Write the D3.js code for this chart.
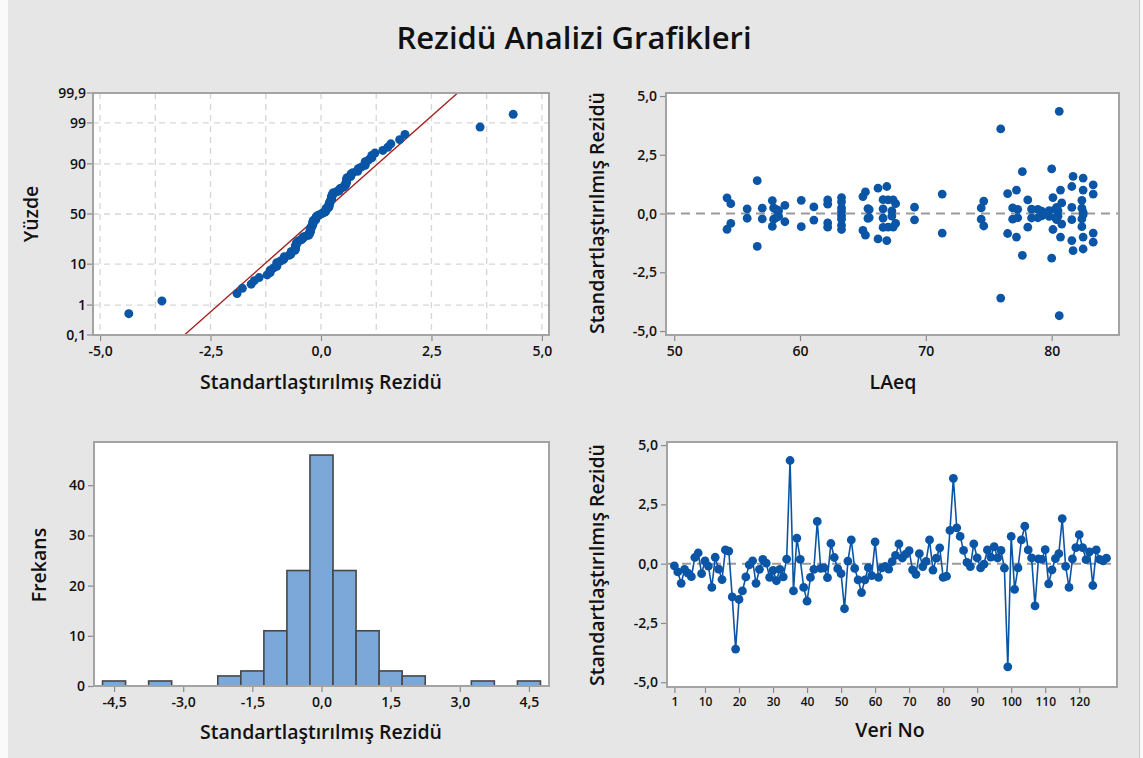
<!DOCTYPE html>
<html><head><meta charset="utf-8">
<script src="https://cdn.jsdelivr.net/npm/d3@7"></script>
<style>
body{margin:0;background:#fff}
svg{display:block}
text{font-family:"Open Sans","Noto Sans",sans-serif;fill:#111}
</style>
</head><body>
<svg id="c" width="1143" height="758"></svg>
<script>
// ---------- data ----------
const obsNo = d3.range(1, 129);
const residuals = [
 -0.09,-0.35,-0.83,-0.24,-0.40,-0.55, 0.26, 0.45,-0.42, 0.12,
 -0.10,-1.00, 0.27,-0.23,-0.67, 0.58, 0.53,-1.40,-3.60,-1.51,
 -1.15,-0.56,-0.05, 0.12,-0.83,-0.24, 0.18, 0.02,-0.58,-0.28,
 -0.72,-0.24,-0.56, 0.19, 4.35,-1.15, 1.08, 0.18,-1.00,-1.58,
 -0.58,-0.24, 1.78,-0.20,-0.18,-0.59, 0.85, 0.26,-0.21,-0.42,
 -1.90, 0.11, 1.00,-0.20,-0.68,-1.22,-0.68,-0.17,-0.50, 0.92,
 -0.58,-0.18,-0.12,-0.23, 0.09, 0.35, 0.83, 0.24, 0.40, 0.55,
 -0.26,-0.45, 0.42,-0.12, 0.10, 1.00,-0.27, 0.23, 0.67,-0.58,
 -0.53, 1.40, 3.60, 1.51, 1.15, 0.56, 0.05,-0.12, 0.83, 0.24,
 -0.18,-0.02, 0.58, 0.28, 0.72, 0.24, 0.56,-0.19,-4.35, 1.15,
 -1.08,-0.18, 1.00, 1.58, 0.58, 0.24,-1.78, 0.20, 0.18, 0.59,
 -0.85,-0.26, 0.21, 0.42, 1.90,-0.11,-1.00, 0.20, 0.68, 1.22,
  0.68, 0.17, 0.50,-0.92, 0.58, 0.18, 0.12, 0.23
];
const laeq = [
 63.3,58.8,71.3,74.4,62.2,57.8,81.6,80.8,54.5,79.8,
 79.2,80.7,69.1,82.4,54.2,67.0,74.6,56.6,75.95,82.5,
 66.9,82.4,82.5,80.5,83.3,76.9,80.3,79.5,67.4,61.1,
 65.0,57.9,60.1,78.4,80.6,81.6,66.2,77.3,82.5,81.7,
 78.1,63.3,77.67,55.8,78.9,66.6,76.5,80.4,65.4,67.6,
 80.0,67.3,77.2,66.6,80.1,83.3,63.3,65.5,63.3,65.2,
 62.2,58.1,58.3,57.0,
 63.3,58.8,71.3,74.4,62.2,57.8,81.6,80.8,54.5,79.8,
 79.2,80.7,69.1,82.4,54.2,67.0,74.6,56.6,75.95,82.5,
 66.9,82.4,82.5,80.5,83.3,76.9,80.3,79.5,67.4,61.1,
 65.0,57.9,60.1,78.4,80.6,81.6,66.2,77.3,82.5,81.7,
 78.1,63.3,77.67,55.8,78.9,66.6,76.5,80.4,65.4,67.6,
 80.0,67.3,77.2,66.6,80.1,83.3,63.3,65.5,63.3,65.2,
 62.2,58.1,58.3,57.0
];
const histCenters = [-4.5,-3.5,-2.0,-1.5,-1.0,-0.5,0.0,0.5,1.0,1.5,2.0,3.5,4.5];
const histCounts  = [1,1,2,3,11,23,46,23,11,3,2,1,1];
const binWidth = 0.5;

const probTicks = [0.1,1,10,50,90,99,99.9];
const probXTicks = [-5,-2.5,0,2.5,5];
const probGridX = [-5,-3.75,-2.5,-1.25,0,1.25,2.5,3.75,5];
const resTicks = [-5,-2.5,0,2.5,5];
const laeqTicks = [50,60,70,80];
const histXTicks = [-4.5,-3,-1.5,0,1.5,3,4.5];
const histYTicks = [0,10,20,30,40];
const obsTicks = [1,10,20,30,40,50,60,70,80,90,100,110,120];

// ---------- helpers ----------
const FONT = '"Open Sans","Noto Sans",sans-serif';
const loc = d3.formatLocale({decimal:",",thousands:".",grouping:[3],currency:["",""],minus:"-"});
const f1 = loc.format(".1f");
const fP = p => (p === 0.1 || p === 99.9) ? f1(p) : String(p);

function probit(p){
 const a=[-3.969683028665376e+01,2.209460984245205e+02,-2.759285104469687e+02,1.383577518672690e+02,-3.066479806614716e+01,2.506628277459239e+00];
 const b=[-5.447609879822406e+01,1.615858368580409e+02,-1.556989798598866e+02,6.680131188771972e+01,-1.328068155288572e+01];
 const c=[-7.784894002430293e-03,-3.223964580411365e-01,-2.400758277161838e+00,-2.549732539343734e+00,4.374664141464968e+00,2.938163982698783e+00];
 const d=[7.784695709041462e-03,3.224671290700398e-01,2.445134137142996e+00,3.754408661907416e+00];
 const pl=0.02425, ph=1-pl; let q,r;
 if(p<pl){q=Math.sqrt(-2*Math.log(p));return (((((c[0]*q+c[1])*q+c[2])*q+c[3])*q+c[4])*q+c[5])/((((d[0]*q+d[1])*q+d[2])*q+d[3])*q+1);}
 if(p<=ph){q=p-0.5;r=q*q;return (((((a[0]*r+a[1])*r+a[2])*r+a[3])*r+a[4])*r+a[5])*q/(((((b[0]*r+b[1])*r+b[2])*r+b[3])*r+b[4])*r+1);}
 q=Math.sqrt(-2*Math.log(1-p));return -(((((c[0]*q+c[1])*q+c[2])*q+c[3])*q+c[4])*q+c[5])/((((d[0]*q+d[1])*q+d[2])*q+d[3])*q+1);
}

const BLUE = "#0a55a5";
const FRAME = "#a3a3a3";
const TICKFS = 14, TICKW = 600;
const svg = d3.select("#c");

svg.append("rect").attr("x",0).attr("y",0).attr("width",1143).attr("height",758).attr("fill","#fafafa");
svg.append("rect").attr("x",8).attr("y",0).attr("width",1131).attr("height",758).attr("fill","#e6e6e6");
svg.append("line").attr("x1",1139.5).attr("x2",1139.5).attr("y1",0).attr("y2",758).attr("stroke","#c8c8c8");

svg.append("text").attr("x",574).attr("y",49).attr("text-anchor","middle")
  .attr("font-size",31).attr("font-weight",600).text("Rezidü Analizi Grafikleri");

function frame(x0,x1,y0,y1){
  return svg.append("rect").attr("x",x0).attr("y",y0).attr("width",x1-x0).attr("height",y1-y0)
    .attr("fill","#fff");
}
function border(x0,x1,y0,y1){
  svg.append("rect").attr("x",x0).attr("y",y0).attr("width",x1-x0).attr("height",y1-y0)
    .attr("fill","none").attr("stroke",FRAME).attr("stroke-width",2);
}
function styleTicks(g, fs){
  g.select(".domain").remove();
  g.selectAll(".tick line").attr("stroke","#8a8a8a").attr("stroke-width",1.2);
  g.selectAll(".tick text").attr("font-size",fs).attr("font-weight",TICKW)
    .attr("font-family",FONT).attr("fill","#111");
}
function xAxis(scale, ticks, y, fmt, fs){
  const g = svg.append("g").attr("transform",`translate(0,${y})`);
  g.call(d3.axisBottom(scale).tickValues(ticks).tickFormat(fmt).tickSize(5).tickSizeOuter(0));
  styleTicks(g, fs);
  g.selectAll(".tick text").attr("dy","0.85em");
}
function yAxis(scale, ticks, x, fmt, fs){
  const g = svg.append("g").attr("transform",`translate(${x},0)`);
  g.call(d3.axisLeft(scale).tickValues(ticks).tickFormat(fmt).tickSize(5).tickSizeOuter(0));
  styleTicks(g, fs);
}
function xTitle(x,y,t){ svg.append("text").attr("x",x).attr("y",y).attr("text-anchor","middle").attr("font-size",19.5).attr("font-weight",600).text(t); }
function yTitle(x,y,t){ svg.append("text").attr("transform",`translate(${x},${y}) rotate(-90)`).attr("text-anchor","middle").attr("font-size",19.5).attr("font-weight",600).text(t); }

// ---------- Panel 1: normal probability plot ----------
{
  const X0=93,X1=549,Y0=93,Y1=335;
  frame(X0,X1,Y0,Y1);
  const x = d3.scaleLinear().domain([-5.16,5.16]).range([X0,X1]);
  const y = d3.scaleLinear().domain([probit(0.001),probit(0.999)]).range([Y1,Y0]);
  const dash = "6,5";
  svg.append("g").selectAll("line").data(probGridX).join("line")
    .attr("x1",d=>x(d)).attr("x2",d=>x(d)).attr("y1",Y0).attr("y2",Y1)
    .attr("stroke","#d6d6d6").attr("stroke-width",1.3).attr("stroke-dasharray",dash);
  svg.append("g").selectAll("line").data(probTicks.slice(1,-1)).join("line")
    .attr("x1",X0).attr("x2",X1).attr("y1",d=>y(probit(d/100))).attr("y2",d=>y(probit(d/100)))
    .attr("stroke","#d6d6d6").attr("stroke-width",1.3).attr("stroke-dasharray",dash);

  const n = residuals.length;
  const sorted = residuals.slice().sort(d3.ascending);
  const pts = sorted.map((v,i)=>({v, z: probit((i+1-0.3)/(n+0.4))}));
  const mu = d3.mean(residuals), sd = d3.deviation(residuals);
  const zl = [probit(0.001), probit(0.999)];
  svg.append("path").datum(zl)
    .attr("d", d3.line().x(z=>x(mu+sd*z)).y(z=>y(z)))
    .attr("stroke","#a3201c").attr("stroke-width",1.4).attr("fill","none");
  svg.append("g").selectAll("circle").data(pts).join("circle")
    .attr("cx",d=>x(d.v)).attr("cy",d=>y(d.z)).attr("r",4.5).attr("fill",BLUE);
  border(X0,X1,Y0,Y1);
  xAxis(x, probXTicks, Y1+1, f1, TICKFS);
  const gy = svg.append("g");
  probTicks.forEach(p=>{
    const yy = y(probit(p/100));
    gy.append("line").attr("x1",X0-6).attr("x2",X0-1).attr("y1",yy).attr("y2",yy).attr("stroke","#8a8a8a").attr("stroke-width",1.2);
    gy.append("text").attr("x",X0-7).attr("y",yy).attr("dy","0.35em").attr("text-anchor","end")
      .attr("font-size",TICKFS).attr("font-weight",TICKW).text(fP(p));
  });
  xTitle(321,389,"Standartlaştırılmış Rezidü");
  yTitle(38,214,"Yüzde");
}

// ---------- Panel 2: residuals vs LAeq ----------
{
  const X0=666,X1=1119,Y0=93,Y1=335;
  frame(X0,X1,Y0,Y1);
  const x = d3.scaleLinear().domain([49.35,85.35]).range([X0,X1]);
  const y = d3.scaleLinear().domain([-5.17,5.13]).range([Y1,Y0]);
  svg.append("line").attr("x1",X0).attr("x2",X1).attr("y1",y(0)).attr("y2",y(0))
    .attr("stroke","#9a9a9a").attr("stroke-width",2).attr("stroke-dasharray","9,6");
  svg.append("g").selectAll("circle").data(residuals).join("circle")
    .attr("cx",(d,i)=>x(laeq[i])).attr("cy",d=>y(d)).attr("r",4.4).attr("fill",BLUE);
  border(X0,X1,Y0,Y1);
  xAxis(x, laeqTicks, Y1+1, d=>String(d), TICKFS);
  yAxis(y, resTicks, X0-1, f1, TICKFS);
  xTitle(893,389,"LAeq");
  yTitle(604,213,"Standartlaştırılmış Rezidü");
}

// ---------- Panel 3: histogram ----------
{
  const X0=94,X1=549,Y0=442,Y1=686;
  frame(X0,X1,Y0,Y1);
  const x = d3.scaleLinear().domain([-4.935,4.935]).range([X0,X1]);
  const y = d3.scaleLinear().domain([0,48.6]).range([Y1,Y0]);
  svg.append("g").selectAll("rect").data(histCenters).join("rect")
    .attr("x",d=>x(d-binWidth/2)).attr("width",d=>x(d+binWidth/2)-x(d-binWidth/2))
    .attr("y",(d,i)=>y(histCounts[i])).attr("height",(d,i)=>y(0)-y(histCounts[i]))
    .attr("fill","#7ba7d9").attr("stroke","#474747").attr("stroke-width",1.6);
  border(X0,X1,Y0,Y1);
  xAxis(x, histXTicks, Y1+1, f1, TICKFS);
  yAxis(y, histYTicks, X0-1, d=>String(d), TICKFS);
  xTitle(321,739,"Standartlaştırılmış Rezidü");
  yTitle(46,565,"Frekans");
}

// ---------- Panel 4: residuals vs observation order ----------
{
  const X0=667,X1=1117,Y0=442,Y1=687;
  frame(X0,X1,Y0,Y1);
  const x = d3.scaleLinear().domain([-1.17,131.1]).range([X0,X1]);
  const y = d3.scaleLinear().domain([-5.2,5.13]).range([Y1,Y0]);
  svg.append("line").attr("x1",X0).attr("x2",X1).attr("y1",y(0)).attr("y2",y(0))
    .attr("stroke","#9a9a9a").attr("stroke-width",2).attr("stroke-dasharray","9,6");
  svg.append("path").datum(residuals)
    .attr("d", d3.line().x((d,i)=>x(obsNo[i])).y(d=>y(d)))
    .attr("stroke",BLUE).attr("stroke-width",1.6).attr("fill","none");
  svg.append("g").selectAll("circle").data(residuals).join("circle")
    .attr("cx",(d,i)=>x(obsNo[i])).attr("cy",d=>y(d)).attr("r",4.4).attr("fill",BLUE);
  border(X0,X1,Y0,Y1);
  xAxis(x, obsTicks, Y1+1, d=>String(d), 12);
  yAxis(y, resTicks, X0-1, f1, TICKFS);
  xTitle(890,737,"Veri No");
  yTitle(604,565,"Standartlaştırılmış Rezidü");
}
</script>
</body></html>
